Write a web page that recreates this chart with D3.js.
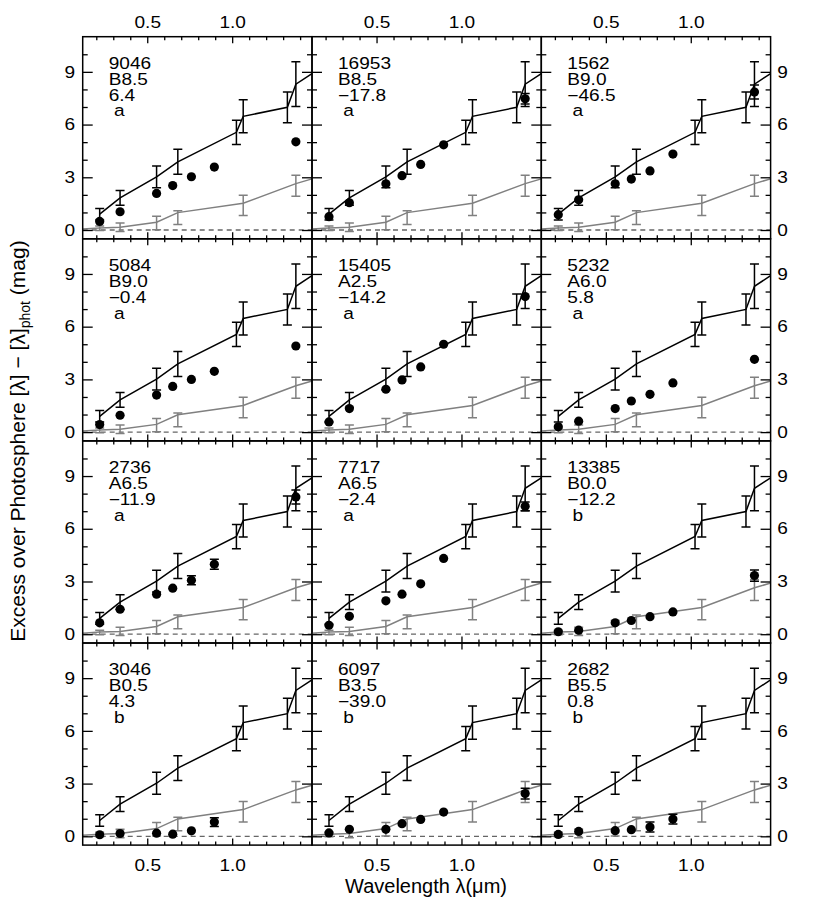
<!DOCTYPE html>
<html><head><meta charset="utf-8">
<script src="https://cdn.jsdelivr.net/npm/d3@7"></script>
<style>
body{margin:0;background:#fff}
svg{display:block}
text{font-family:"Liberation Sans",Arial,Helvetica,sans-serif;fill:#000}
</style>
</head><body>
<svg id="c" width="822" height="919"></svg>
<script>
// ---------------- data ----------------
const xDomain = [0.12, 1.47];
const yDomain = [-0.5, 11];
const xMajorTicks = [0.5, 1.0];
const xMinorTicks = [0.2,0.3,0.4,0.6,0.7,0.8,0.9,1.1,1.2,1.3,1.4];
const yMajorTicks = [0, 3, 6, 9];
const yMinorTicks = [1, 2, 4, 5, 7, 8, 10];

// observed bands (µm)
const pointLambda = [0.22, 0.34, 0.555, 0.65, 0.76, 0.895, 1.375];

// upper model (black) and lower model (gray)
const blackLambda = [0.22, 0.34, 0.555, 0.68, 1.025, 1.065, 1.325, 1.375, 1.47];
const blackValue  = [0.90, 1.83, 3.02, 3.88, 5.56, 6.47, 6.98, 8.30, 8.90];
const blackErr    = [0.33, 0.42, 0.62, 0.71, 0.69, 0.94, 0.88, 1.27, null];

const grayLambda  = [0.12, 0.22, 0.34, 0.555, 0.68, 1.065, 1.375, 1.47];
const grayValue   = [0.06, 0.12, 0.16, 0.44, 0.99, 1.52, 2.64, 2.91];
const grayBarLambda = [0.22, 0.34, 0.555, 0.68, 1.065, 1.375];
const grayBarCenter = [0.10, 0.16, 0.40, 0.70, 1.40, 2.52];
const grayBarErr    = [0.13, 0.24, 0.38, 0.39, 0.58, 0.60];

// panel labels
const starIds    = ["9046","16953","1562","5084","15405","5232","2736","7717","13385","3046","6097","2682"];
const spTypes    = ["B8.5","B8.5","B9.0","B9.0","A2.5","A6.0","A6.5","A6.5","B0.0","B0.5","B3.5","B5.5"];
const velocities = ["6.4","\u221217.8","\u221246.5","\u22120.4","\u221214.2","5.8","\u221211.9","\u22122.4","\u221212.2","4.3","\u221239.0","0.8"];
const groups     = ["a","a","a","a","a","a","a","a","b","b","b","b"];

// observed excesses (mag)
const exc9046  = [0.49, 1.04, 2.08, 2.53, 3.03, 3.58, 5.02];
const exc16953 = [0.76, 1.55, 2.63, 3.09, 3.73, 4.85, 7.47];
const exc1562  = [0.87, 1.72, 2.63, 2.90, 3.36, 4.32, 7.85];
const exc5084  = [0.43, 0.96, 2.11, 2.60, 3.00, 3.46, 4.90];
const exc15405 = [0.58, 1.34, 2.44, 2.97, 3.71, 5.00, 7.71];
const exc5232  = [0.30, 0.62, 1.34, 1.77, 2.15, 2.80, 4.14];
const exc2736  = [0.65, 1.42, 2.28, 2.62, 3.07, 3.98, 7.81];
const exc7717  = [0.51, 1.02, 1.90, 2.28, 2.87, 4.31, 7.28];
const exc13385 = [0.14, 0.23, 0.65, 0.78, 1.00, 1.27, 3.34];
const exc3046  = [0.09, 0.16, 0.18, 0.12, 0.31, 0.81, null];
const exc6097  = [0.19, 0.40, 0.40, 0.72, 0.96, 1.38, 2.43];
const exc2682  = [0.11, 0.28, 0.32, 0.38, 0.53, 0.98, null];

// observational errors (mag), 0 = hidden by marker
const err9046  = [0,0,0,0,0,0,0];
const err16953 = [0,0,0,0,0,0,0.30];
const err1562  = [0,0,0,0,0,0,0.40];
const err5084  = [0,0,0,0,0,0,0];
const err15405 = [0,0,0,0,0,0,0];
const err5232  = [0,0,0,0,0,0,0];
const err2736  = [0,0,0,0,0.25,0.28,0.40];
const err7717  = [0,0,0,0,0,0,0.25];
const err13385 = [0,0,0,0,0,0,0.32];
const err3046  = [0,0,0,0,0,0.25,0];
const err6097  = [0,0,0,0,0,0,0.30];
const err2682  = [0,0,0,0,0.28,0.28,0];

const excessSeries = [exc9046,exc16953,exc1562,exc5084,exc15405,exc5232,exc2736,exc7717,exc13385,exc3046,exc6097,exc2682];
const errorSeries  = [err9046,err16953,err1562,err5084,err15405,err5232,err2736,err7717,err13385,err3046,err6097,err2682];

// ---------------- layout ----------------
const NCOL = 3, NROW = 4;
const X0 = 82.7, Y0 = 36.7, PW = 229.3, PH = 202.1;
const svg = d3.select("#c");

const x = d3.scaleLinear().domain(xDomain).range([0, PW]);
const y = d3.scaleLinear().domain(yDomain).range([PH, 0]);
const line = d3.line().x(d => x(d[0])).y(d => y(d[1]));
const CAP = 4.5;
const FS = 16.3;          // small text size
const SX = 1.17;          // horizontal stretch of small text

function errBar(g, lam, c, e, color, w) {
  const gx = x(lam), y1 = y(c - e), y2 = y(c + e);
  const p = `M${gx},${y1}V${y2}M${gx-CAP},${y1}H${gx+CAP}M${gx-CAP},${y2}H${gx+CAP}`;
  g.append("path").attr("d", p).attr("fill","none").attr("stroke",color).attr("stroke-width",w);
}
function styleLabels(a) {
  a.select(".domain").remove();
  a.selectAll("text").attr("font-size",FS).attr("font-family",null)
    .attr("transform",`scale(${SX},1)`);
}

starIds.forEach((id, i) => {
  const col = i % NCOL, row = Math.floor(i / NCOL);
  const g = svg.append("g").attr("transform", `translate(${X0 + col*PW},${Y0 + row*PH})`);

  // zero line
  g.append("line").attr("x1",0).attr("x2",PW).attr("y1",y(0)).attr("y2",y(0))
    .attr("stroke","#666").attr("stroke-width",1.3).attr("stroke-dasharray","5,4");

  // gray model
  g.append("path").datum(grayLambda.map((l,k)=>[l,grayValue[k]])).attr("d",line)
    .attr("fill","none").attr("stroke","#808080").attr("stroke-width",1.5);
  grayBarLambda.forEach((l,k)=>errBar(g,l,grayBarCenter[k],grayBarErr[k],"#808080",1.5));

  // black model
  g.append("path").datum(blackLambda.map((l,k)=>[l,blackValue[k]])).attr("d",line)
    .attr("fill","none").attr("stroke","#000").attr("stroke-width",1.5);
  blackLambda.forEach((l,k)=>{ if (blackErr[k]!=null) errBar(g,l,blackValue[k],blackErr[k],"#000",1.5); });

  // observed points
  const vals = excessSeries[i], errs = errorSeries[i];
  const pts = pointLambda.map((l,k)=>({l, v: vals[k], e: errs[k]})).filter(d => d.v != null);
  pts.forEach(d => { if (d.e > 0) errBar(g, d.l, d.v, d.e, "#000", 1.5); });
  g.selectAll("circle.pt").data(pts).join("circle").attr("class","pt")
    .attr("cx", d => x(d.l)).attr("cy", d => y(d.v)).attr("r", 4.6).attr("fill","#000");

  // ticks (inward on all sides)
  const axes = [
    [d3.axisBottom(x).tickValues(xMinorTicks).tickSize(-3.5), `translate(0,${PH})`],
    [d3.axisBottom(x).tickValues(xMajorTicks).tickSize(-6.5), `translate(0,${PH})`],
    [d3.axisTop(x).tickValues(xMinorTicks).tickSize(-3.5), `translate(0,0)`],
    [d3.axisTop(x).tickValues(xMajorTicks).tickSize(-6.5), `translate(0,0)`],
    [d3.axisLeft(y).tickValues(yMinorTicks).tickSize(-5), `translate(0,0)`],
    [d3.axisLeft(y).tickValues(yMajorTicks).tickSize(-10), `translate(0,0)`],
    [d3.axisRight(y).tickValues(yMinorTicks).tickSize(-5), `translate(${PW},0)`],
    [d3.axisRight(y).tickValues(yMajorTicks).tickSize(-10), `translate(${PW},0)`]
  ];
  axes.forEach(([ax, tr]) => {
    const a = g.append("g").attr("transform", tr).call(ax.tickFormat(""));
    a.select(".domain").remove();
    a.selectAll(".tick line").attr("stroke","#000").attr("stroke-width",1.3);
  });

  // tick labels on outer panels
  const fmtX = d3.format(".1f");
  if (row === 0) {
    styleLabels(g.append("g").call(d3.axisTop(x).tickValues(xMajorTicks).tickSize(0).tickPadding(9).tickFormat(fmtX)));
  }
  if (row === NROW-1) {
    styleLabels(g.append("g").attr("transform",`translate(0,${PH})`)
      .call(d3.axisBottom(x).tickValues(xMajorTicks).tickSize(0).tickPadding(14).tickFormat(fmtX)));
  }
  if (col === 0) {
    styleLabels(g.append("g").call(d3.axisLeft(y).tickValues(yMajorTicks).tickSize(0).tickPadding(6.6).tickFormat(d3.format("d"))));
  }
  if (col === NCOL-1) {
    styleLabels(g.append("g").attr("transform",`translate(${PW},0)`)
      .call(d3.axisRight(y).tickValues(yMajorTicks).tickSize(0).tickPadding(5.8).tickFormat(d3.format("d"))));
  }

  // frame
  g.append("rect").attr("x",0).attr("y",0).attr("width",PW).attr("height",PH)
    .attr("fill","none").attr("stroke","#000").attr("stroke-width",1.5);

  // annotation
  const lines = [id, spTypes[i], velocities[i], "\u00a0" + groups[i]];
  lines.forEach((s,k) => g.append("text")
    .attr("transform", `translate(26,${32.3 + 15.8*k}) scale(${SX},1)`)
    .attr("font-size", FS).text(s));
});

// axis titles
svg.append("text").attr("x", 426).attr("y", 893).attr("text-anchor","middle")
  .attr("font-size", 20).text("Wavelength \u03bb(\u03bcm)");

const yl = svg.append("text").attr("transform","translate(25,441) rotate(-90)")
  .attr("text-anchor","middle").attr("font-size", 21);
yl.append("tspan").text("Excess over Photosphere [\u03bb] \u2212 [\u03bb]");
yl.append("tspan").attr("font-size", 14).attr("dy", 5).text("phot");
yl.append("tspan").attr("dy", -5).text(" (mag)");
</script>
</body></html>
